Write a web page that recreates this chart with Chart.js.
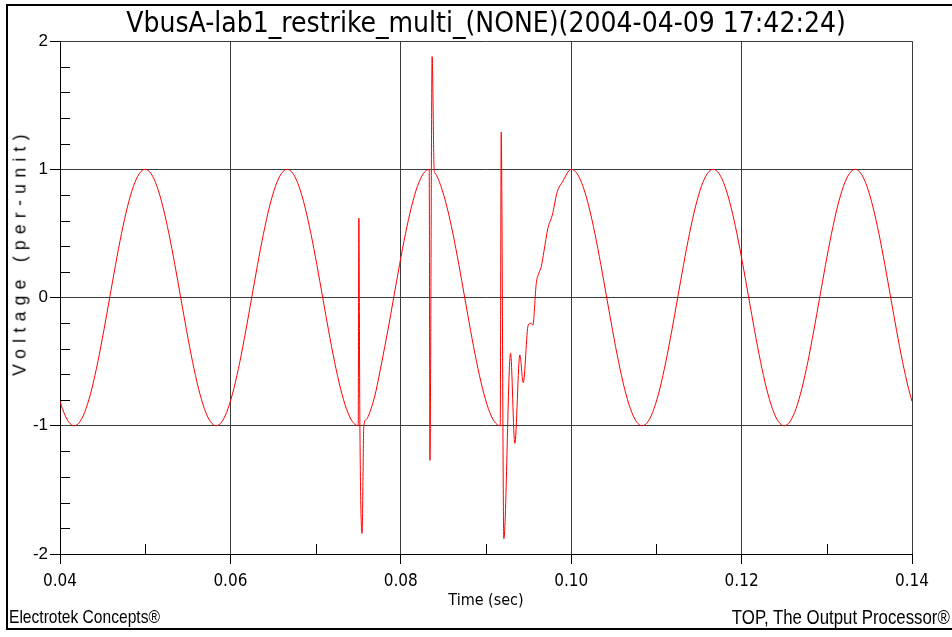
<!DOCTYPE html>
<html>
<head>
<meta charset="utf-8">
<script src="https://cdn.jsdelivr.net/npm/chart.js@4"></script>
<style>
html,body{margin:0;padding:0;background:#fff;}
#wrap{position:relative;width:952px;height:637px;overflow:hidden;background:#fff;}
#chart{position:absolute;left:0;top:0;}
.foot{position:absolute;top:606px;font-family:'Liberation Sans',Arial,sans-serif;font-size:19px;line-height:22px;color:#000;white-space:nowrap;}
#footL{left:9px;transform:scaleX(0.82);transform-origin:left center;}
#footR{right:2px;font-size:20.5px;transform:scaleX(0.82);transform-origin:right center;}
#ytitle{position:absolute;left:20px;top:252px;transform:translate(-50%,-50%) rotate(-90deg);font-family:'Liberation Sans',Arial,sans-serif;font-size:17.5px;letter-spacing:6.3px;white-space:nowrap;color:#000;}
</style>
</head>
<body>
<div id="wrap">
<canvas id="chart" width="952" height="637"></canvas>
<div id="ytitle">Voltage (per-unit)</div>
<div class="foot" id="footL">Electrotek Concepts®</div>
<div class="foot" id="footR">TOP, The Output Processor®</div>
</div>
<script>
// ---- data ----
const chartTitle = 'VbusA-lab1_restrike_multi_(NONE)(2004-04-09 17:42:24)';
const xAxisTitle = 'Time (sec)';

const timeSec = [
 0.040000,0.040278,0.040972,0.041667,0.042361,0.043056,0.043750,0.044444,0.045139,0.045833,
 0.046528,0.047222,0.047917,0.048611,0.049306,0.050000,0.050694,0.051389,0.052083,0.052778,
 0.053472,0.054167,0.054861,0.055556,0.056250,0.056944,0.057639,0.058333,0.059028,0.059722,
 0.060417,0.061111,0.061806,0.062500,0.063194,0.063889,0.064583,0.065278,0.065972,0.066667,
 0.067361,0.068056,0.068750,0.069444,0.070139,0.070833,0.071528,0.072222,0.072917,0.073611,
 0.074306,0.075000,
 0.075076,0.075194,0.075453,0.075664,0.075958,0.076389,0.076816,0.077083,
 0.077778,0.078472,0.079167,0.079861,0.080556,0.081250,0.081944,0.082639,0.083333,
 0.083419,0.083678,0.083913,0.084028,
 0.084722,0.085417,0.086111,0.086806,0.087500,0.088194,0.088889,0.089583,0.090278,0.090972,0.091667,
 0.091786,0.092092,0.092879,0.093384,0.093972,0.094371,0.094959,0.095323,0.095499,0.095899,
 0.096204,0.096486,0.096792,0.097262,0.097779,0.098367,0.098954,
 0.100000,0.100694,0.101389,0.102083,0.102778,0.103472,0.104167,0.104861,0.105556,0.106250,
 0.106944,0.107639,0.108333,0.109028,0.109722,0.110417,0.111111,0.111806,0.112500,0.113194,
 0.113889,0.114583,0.115278,0.115972,0.116667,0.117361,0.118056,0.118750,0.119444,0.120139,
 0.120833,0.121528,0.122222,0.122917,0.123611,0.124306,0.125000,0.125694,0.126389,0.127083,
 0.127778,0.128472,0.129167,0.129861,0.130556,0.131250,0.131944,0.132639,0.133333,0.134028,
 0.134722,0.135417,0.136111,0.136806,0.137500,0.138194,0.138889,0.139583,0.140000
];

const voltagePU = [
 -0.809,-0.866,-0.966,-1,-0.966,-0.866,-0.707,-0.5,-0.259,0,
 0.259,0.5,0.707,0.866,0.966,1,0.966,0.866,0.707,0.5,
 0.259,0,-0.259,-0.5,-0.707,-0.866,-0.966,-1,-0.966,-0.866,
 -0.707,-0.5,-0.259,0,0.259,0.5,0.707,0.866,0.966,1,
 0.966,0.866,0.707,0.5,0.259,0,-0.259,-0.5,-0.707,-0.866,
 -0.966,-1,
 0.62,-0.95,-1.84,-1.0,-0.95,-0.89,-0.80,-0.73,
 -0.5,-0.259,0,0.259,0.5,0.707,0.866,0.966,1,
 -1.27,1.88,1.0,0.97,
 0.866,0.707,0.5,0.259,0,-0.259,-0.5,-0.707,-0.866,-0.966,-1,
 1.29,-1.88,-0.435,-1.137,-0.448,-0.664,-0.214,-0.20,-0.215,0.11,
 0.19,0.24,0.357,0.54,0.643,0.825,0.90,
 1,0.966,0.866,0.707,0.5,0.259,0,-0.259,-0.5,-0.707,
 -0.866,-0.966,-1,-0.966,-0.866,-0.707,-0.5,-0.259,0,0.259,
 0.5,0.707,0.866,0.966,1,0.966,0.866,0.707,0.5,0.259,
 0,-0.259,-0.5,-0.707,-0.866,-0.966,-1,-0.966,-0.866,-0.707,
 -0.5,-0.259,0,0.259,0.5,0.707,0.866,0.966,1,0.966,
 0.866,0.707,0.5,0.259,0,-0.259,-0.5,-0.707,-0.809
];

const xTickValues = [0.04, 0.06, 0.08, 0.10, 0.12, 0.14];
const xMinorTicks = [0.05, 0.07, 0.09, 0.11, 0.13];
const yTickValues = [-2, -1, 0, 1, 2];
const yMinorTicks = [-1.8,-1.6,-1.4,-1.2,-0.8,-0.6,-0.4,-0.2,0.2,0.4,0.6,0.8,1.2,1.4,1.6,1.8];

// ---- styling ----
const narrowFont = "'Liberation Sans Narrow','Arial Narrow','DejaVu Sans Condensed',sans-serif";
const regularFont = "'Liberation Sans',Arial,sans-serif";

const minorTicksPlugin = {
  id: 'minorTicks',
  beforeDatasetsDraw(chart) {
    const {ctx, chartArea: a, scales: {x, y}} = chart;
    ctx.save();
    ctx.strokeStyle = '#000';
    ctx.lineWidth = 1;
    ctx.beginPath();
    yMinorTicks.forEach(v => {
      const py = Math.round(y.getPixelForValue(v)) + 0.5;
      ctx.moveTo(a.left, py); ctx.lineTo(a.left + 10, py);
    });
    xMinorTicks.forEach(v => {
      const px = Math.round(x.getPixelForValue(v)) + 0.5;
      ctx.moveTo(px, a.bottom); ctx.lineTo(px, a.bottom - 10);
    });
    ctx.stroke();
    ctx.restore();
  }
};

const framePlugin = {
  id: 'outerFrame',
  afterDraw(chart) {
    const ctx = chart.ctx;
    ctx.save();
    ctx.strokeStyle = '#000';
    ctx.lineWidth = 2;
    ctx.strokeRect(7, 5, 980, 624);
    ctx.restore();
  }
};

new Chart(document.getElementById('chart'), {
  type: 'line',
  data: {
    datasets: [{
      data: timeSec.map((t, i) => ({x: t, y: voltagePU[i]})),
      borderColor: '#ff0000',
      borderWidth: 1,
      pointRadius: 0,
      fill: false,
      cubicInterpolationMode: 'monotone'
    }]
  },
  options: {
    responsive: false,
    animation: false,
    devicePixelRatio: 1,
    layout: {padding: {left: 0, right: 40, top: 0, bottom: 0}},
    plugins: {
      legend: {display: false},
      tooltip: {enabled: false},
      title: {
        display: true,
        fullSize: false,
        text: chartTitle,
        color: '#000',
        font: {family: narrowFont, size: 28, weight: 'normal', lineHeight: 1.2},
        padding: {top: 7.5, bottom: 0}
      }
    },
    scales: {
      x: {
        type: 'linear',
        min: 0.04, max: 0.14,
        afterFit(s) { s.height = 83; },
        afterBuildTicks(s) { s.ticks = xTickValues.map(v => ({value: v})); },
        ticks: {
          callback: v => Number(v).toFixed(2),
          color: '#000',
          font: {family: narrowFont, size: 17},
          padding: 7, maxRotation: 0, autoSkip: false
        },
        grid: {color: '#3a3a3a', lineWidth: 1, tickLength: 10, tickColor: '#000'},
        border: {color: '#000', width: 1},
        title: {
          display: true, text: xAxisTitle, color: '#000',
          font: {family: narrowFont, size: 16},
          padding: {top: 0, bottom: 27}
        }
      },
      y: {
        type: 'linear',
        min: -2, max: 2,
        afterFit(s) { s.width = 60; },
        afterBuildTicks(s) { s.ticks = yTickValues.map(v => ({value: v})); },
        ticks: {
          callback: v => String(v),
          color: '#000',
          font: {family: regularFont, size: 17},
          padding: 2, autoSkip: false
        },
        grid: {color: '#3a3a3a', lineWidth: 1, tickLength: 10, tickColor: '#000'},
        border: {color: '#000', width: 1}
      }
    }
  },
  plugins: [minorTicksPlugin, framePlugin]
});
</script>
</body>
</html>
